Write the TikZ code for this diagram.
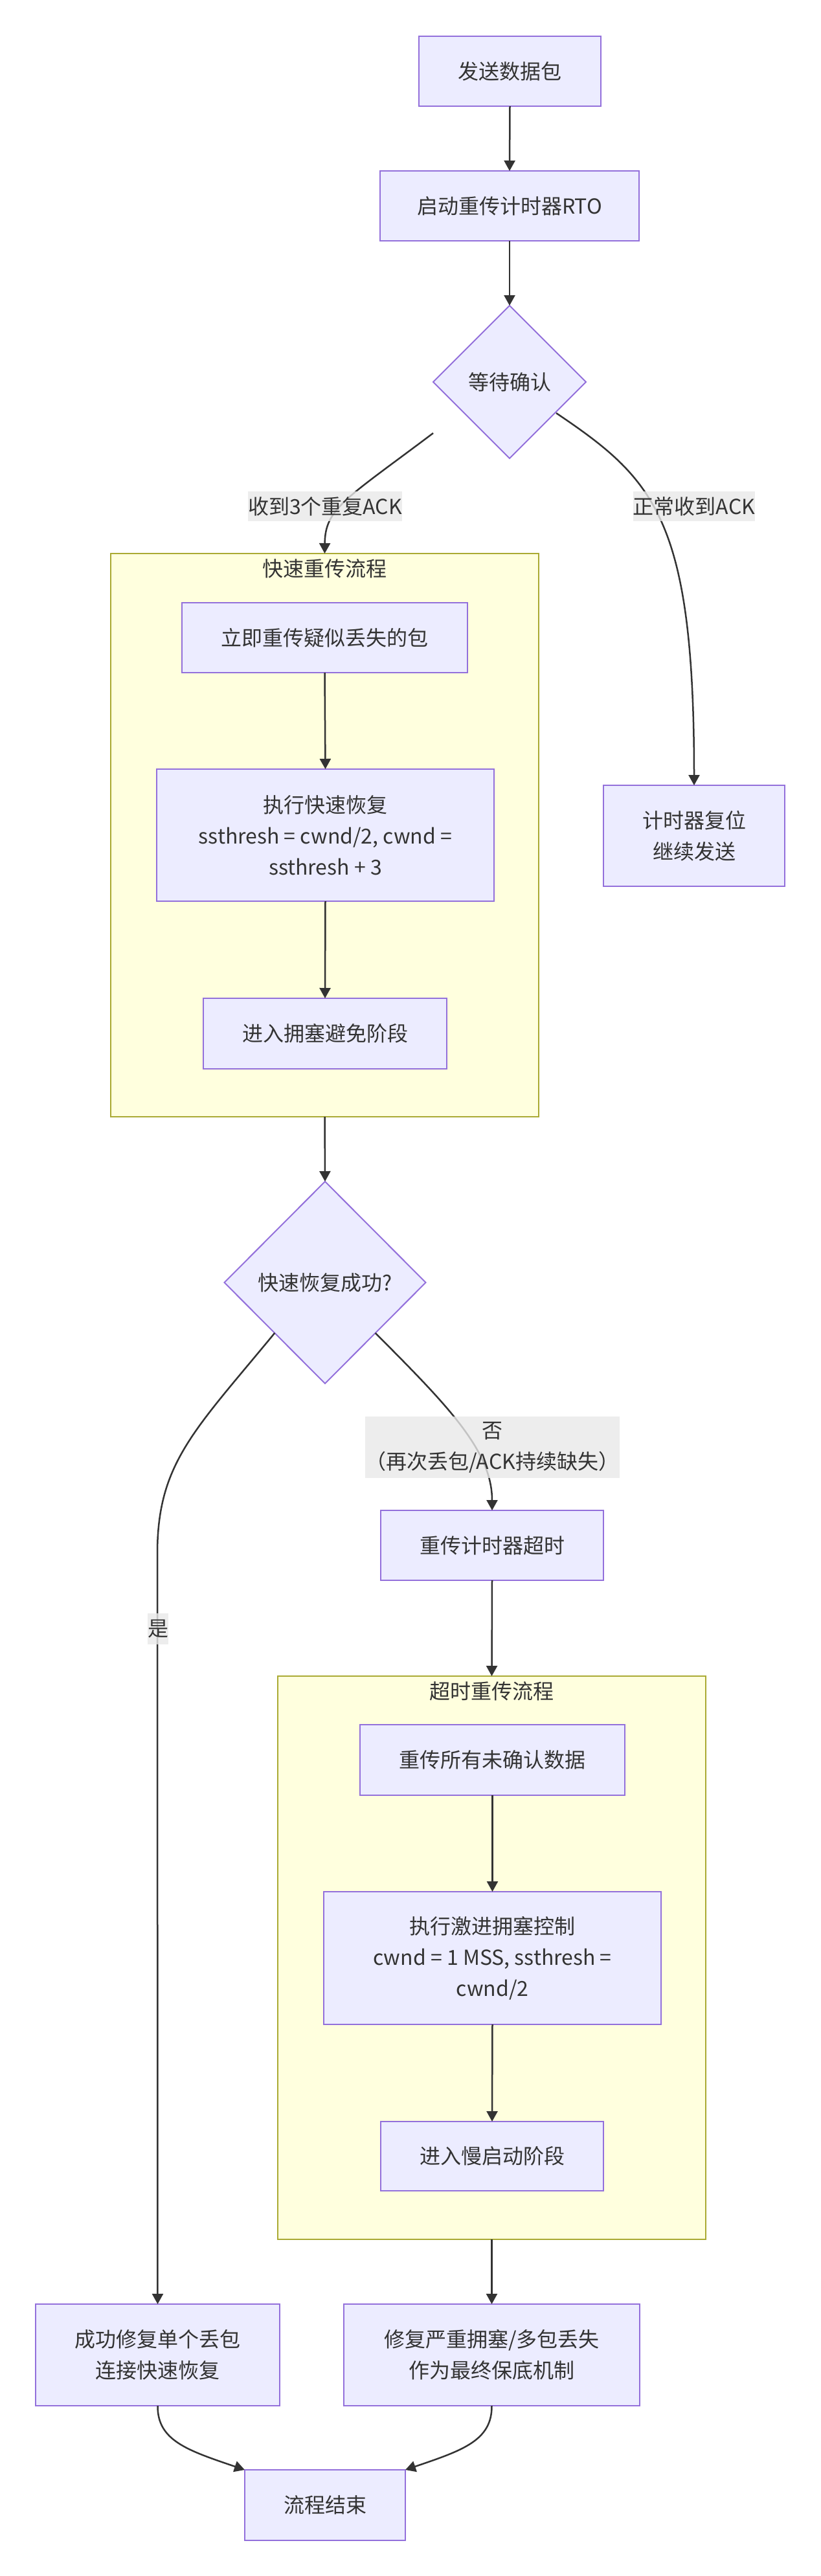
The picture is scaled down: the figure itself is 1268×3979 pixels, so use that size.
\documentclass[tikz,border=0pt]{standalone}
\usepackage{fontspec}
\setmainfont{Noto Sans CJK SC}
\usetikzlibrary{shapes.geometric,arrows.meta}
\definecolor{nfill}{HTML}{ECECFF}
\definecolor{nborder}{HTML}{9370DB}
\definecolor{cfill}{HTML}{FFFFDE}
\definecolor{cborder}{HTML}{AAAA33}
\definecolor{ecol}{HTML}{333333}
\definecolor{tcol}{HTML}{333333}
\definecolor{lbg}{HTML}{E8E8E8}
\begin{document}
\begin{tikzpicture}[x=0.5pt,y=-0.5pt,
  txt/.style={text=tcol,font=\fontsize{16}{24}\selectfont,align=center},
  box/.style={txt,draw=nborder,fill=nfill,line width=1pt,inner sep=0pt,outer sep=0pt},
  decision/.style={box,diamond,shape aspect=1},
  elabel/.style={txt,fill=lbg,fill opacity=0.8,text opacity=1,inner sep=0pt},
  cluster/.style={draw=cborder,fill=cfill,line width=1pt,inner sep=0pt,outer sep=0pt},
  edge/.style={draw=ecol,line width=1.25pt,-{Triangle[length=8pt,width=8.5pt]}}]
\useasboundingbox (0,0) rectangle (1268,3979);

% clusters
\node[cluster,minimum width=330.5pt,minimum height=435pt] (c1) at (501.5,1290) {};
\node[txt,anchor=center] (c1t) at ([yshift=-11.5pt]c1.north) {快速重传流程};
\node[cluster,minimum width=330.5pt,minimum height=435pt] (c2) at (759.5,3024) {};
\node[txt,anchor=center] (c2t) at ([yshift=-11.5pt]c2.north) {超时重传流程};

% nodes
\node[box,minimum width=140.5pt,minimum height=54pt] (n1) at (787.5,110) {发送数据包};
\node[box,minimum width=200pt,minimum height=54pt] (n2) at (787,318) {启动重传计时器RTO};
\node[decision,minimum width=118pt,minimum height=118pt] (d1) at (787,590) {等待确认};
\node[box,minimum width=220.5pt,minimum height=54pt] (n3) at (501.5,985) {立即重传疑似丢失的包};
\node[box,minimum width=260.5pt,minimum height=102pt] (n4) at (502.5,1290) {执行快速恢复\\ssthresh = cwnd/2, cwnd =\\ssthresh + 3};
\node[box,minimum width=188pt,minimum height=54.5pt] (n5) at (502,1596.5) {进入拥塞避免阶段};
\node[box,minimum width=140pt,minimum height=78pt] (n6) at (1072,1291) {计时器复位\\继续发送};
\node[decision,minimum width=155.5pt,minimum height=156pt] (d2) at (502,1981) {快速恢复成功?};
\node[box,minimum width=172pt,minimum height=54pt] (n7) at (760,2387) {重传计时器超时};
\node[box,minimum width=204.5pt,minimum height=54.5pt] (n8) at (760.5,2718.5) {重传所有未确认数据};
\node[box,minimum width=260.5pt,minimum height=102.5pt] (n9) at (760.5,3024.5) {执行激进拥塞控制\\cwnd = 1 MSS, ssthresh =\\cwnd/2};
\node[box,minimum width=172pt,minimum height=53.5pt] (n10) at (760,3330.5) {进入慢启动阶段};
\node[box,minimum width=188.5pt,minimum height=78.5pt] (n11) at (243.5,3637.5) {成功修复单个丢包\\连接快速恢复};
\node[box,minimum width=228.5pt,minimum height=78.5pt] (n12) at (759.5,3637.5) {修复严重拥塞/多包丢失\\作为最终保底机制};
\node[box,minimum width=124pt,minimum height=54.5pt] (n13) at (502,3869.5) {流程结束};

% edges
\draw[edge] (n1.south) -- (n2.north);
\draw[edge] (n2.south) -- (d1.north);
\draw[edge] ([yshift=-39.5pt]d1.west) .. controls (535,770) and (502,785) .. (c1.north);
\draw[edge] ([xshift=6.5pt,yshift=5.5pt]d1.south east) .. controls (1010,740) and (1072,800) .. (n6.north);
\draw[edge] (n3.south) -- (n4.north);
\draw[edge] (n4.south) -- (n5.north);
\draw[edge] (c1.south) -- (d2.north);
\draw[edge] (d2.south west) .. controls (300,2210) and (243,2260) .. (243,2400) -- (n11.north);
\draw[edge] (d2.south east) .. controls (690,2170) and (760,2240) .. (n7.north);
\draw[edge] (n7.south) -- (c2.north);
\draw[edge] (n8.south) -- (n9.north);
\draw[edge] (n9.south) -- (n10.north);
\draw[edge] (c2.south) -- (n12.north);
\draw[edge] (n11.south) .. controls (243,3770) and (290,3785) .. (n13.north west);
\draw[edge] (n12.south) .. controls (760,3770) and (714,3785) .. (n13.north east);

% edge labels
\node[elabel,minimum width=116.5pt,minimum height=23pt] (l1) at (502,782) {收到3个重复ACK};
\node[elabel,minimum width=91.5pt,minimum height=23pt] (l2) at (1072,782) {正常收到ACK};
\node[elabel,minimum width=16pt,minimum height=24pt] (l3) at (244,2516) {是};
\node[elabel,minimum width=196.5pt,minimum height=47.5pt] (l4) at (760.5,2235.5) {否\\（再次丢包/ACK持续缺失）};
\end{tikzpicture}
\end{document}
